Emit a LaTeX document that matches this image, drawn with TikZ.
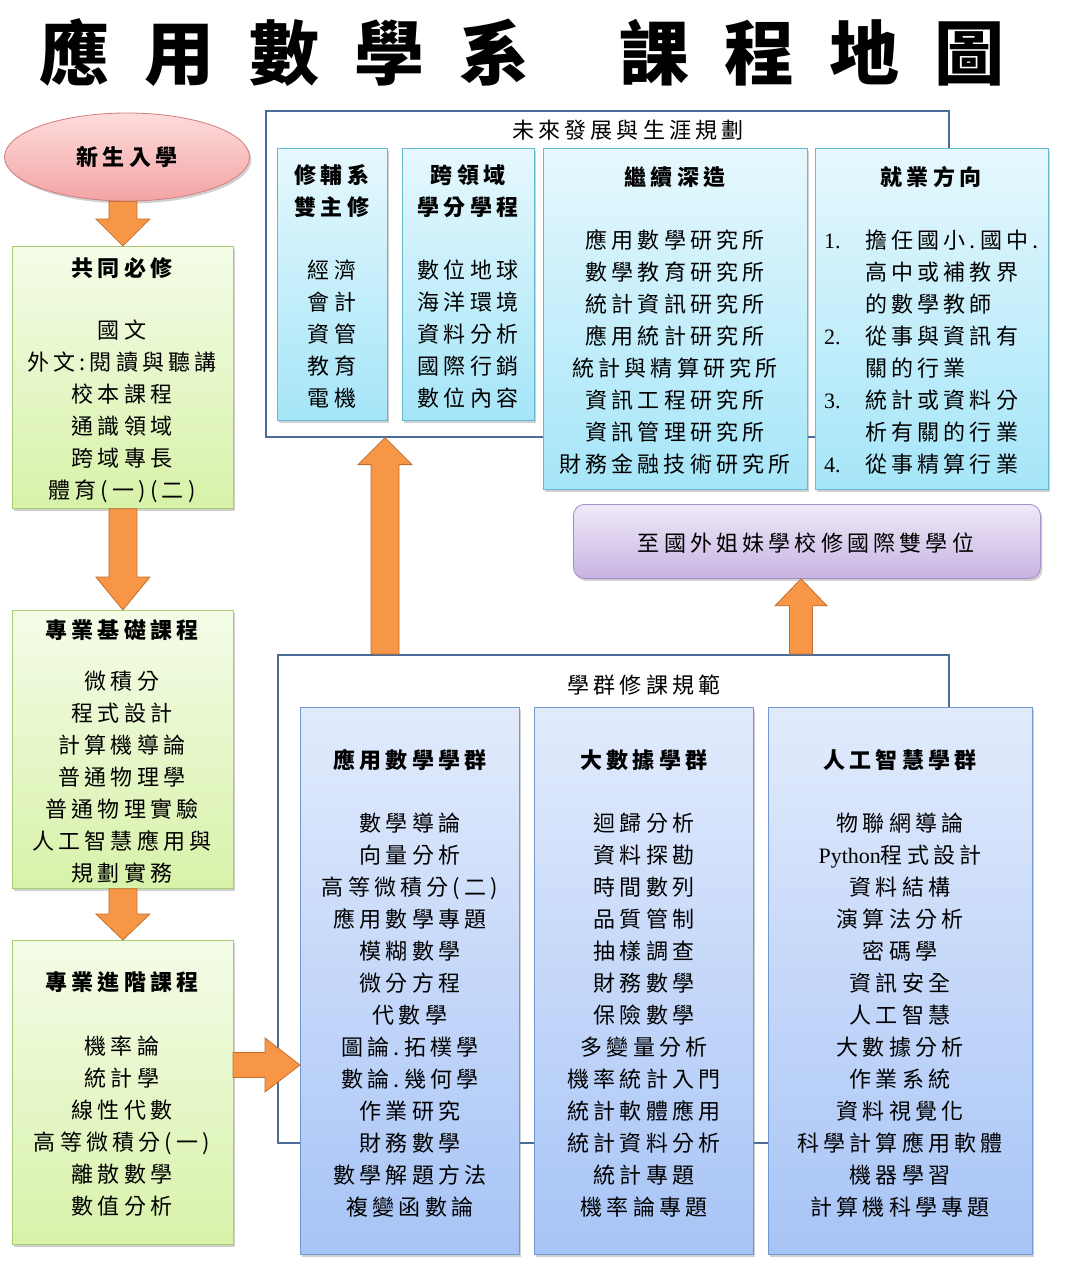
\documentclass[tikz,border=0pt]{standalone}
\usepackage{fontspec}
\setmainfont{Noto Sans CJK TC}[LetterSpace=19]
\newfontfamily\titlefont{Noto Sans CJK TC}[LetterSpace=50]
\newfontfamily\latin{Liberation Serif}
\usetikzlibrary{shapes.geometric,shadows,calc}
\definecolor{pinkT}{HTML}{FDDCDC}
\definecolor{pinkB}{HTML}{F4A3A3}
\definecolor{pinkD}{HTML}{D47B7B}
\definecolor{grnT}{HTML}{F4FCE8}
\definecolor{grnB}{HTML}{D8F2A9}
\definecolor{grnD}{HTML}{A8CC72}
\definecolor{cyT}{HTML}{E6F8FD}
\definecolor{cyB}{HTML}{A5E5F8}
\definecolor{cyD}{HTML}{62BAD3}
\definecolor{blT}{HTML}{E2EBFC}
\definecolor{blB}{HTML}{A7C4F6}
\definecolor{blD}{HTML}{6F98D2}
\definecolor{puT}{HTML}{F0EAF8}
\definecolor{puB}{HTML}{C7B3E2}
\definecolor{puD}{HTML}{A48CC6}
\definecolor{orA}{HTML}{F79646}
\definecolor{orB}{HTML}{C46F2C}
\definecolor{frameC}{HTML}{4A6C9B}
\tikzset{
  box/.style={rectangle, anchor=north west, inner sep=0pt, line width=0.8pt,
    drop shadow={shadow xshift=2pt, shadow yshift=-2.5pt, opacity=0.3, fill=black!60}},
  greenbox/.style={box, draw=grnD, top color=grnT, bottom color=grnB},
  cyanbox/.style={box, draw=cyD, top color=cyT, bottom color=cyB},
  bluebox/.style={box, draw=blD, top color=blT, bottom color=blB},
  purplebox/.style={box, draw=puD, top color=puT, bottom color=puB, rounded corners=11pt},
  outerbox/.style={rectangle, anchor=north west, draw=frameC, line width=1.6pt, fill=white, inner sep=0pt},
  txt/.style={align=center, inner sep=0pt, font=\fontsize{22}{32}\selectfont},
  head/.style={align=center, inner sep=0pt, font=\fontsize{22}{32}\selectfont\bfseries},
  blockarrow/.style={fill=orA, draw=orB, line width=0.8pt, line join=miter},
}
\newcommand\arrowdown[5]{%
  \draw[blockarrow] let \p1=(#1),\p2=(#2) in
  (\x2-#3,\y1) -- (\x2-#3,\y2+#5) -- (\x2-#4,\y2+#5) -- (\x2,\y2) -- (\x2+#4,\y2+#5) -- (\x2+#3,\y2+#5) -- (\x2+#3,\y1) -- cycle;}
\newcommand\arrowup[5]{%
  \draw[blockarrow] let \p1=(#1),\p2=(#2) in
  (\x2-#3,\y1) -- (\x2-#3,\y2-#5) -- (\x2-#4,\y2-#5) -- (\x2,\y2) -- (\x2+#4,\y2-#5) -- (\x2+#3,\y2-#5) -- (\x2+#3,\y1) -- cycle;}
\newcommand\arrowright[5]{%
  \draw[blockarrow] let \p1=(#1),\p2=(#2) in
  (\x1,\y2-#3) -- (\x2-#5,\y2-#3) -- (\x2-#5,\y2-#4) -- (\x2,\y2) -- (\x2-#5,\y2+#4) -- (\x2-#5,\y2+#3) -- (\x1,\y2+#3) -- cycle;}
\begin{document}
\begin{tikzpicture}[x=1pt,y=-1pt]
\useasboundingbox (0,0) rectangle (1072,1262);
\fill[white] (0,0) rectangle (1072,1262);

% title
\node[inner sep=0pt, font=\titlefont\fontsize{70}{70}\selectfont\bfseries] (title) at (522,53) {應用數學系\hspace{90pt}課程地圖};

% outer frames
\node[outerbox, minimum width=683pt, minimum height=326pt] (future) at (265,110) {};
\node[inner sep=0pt, font=\fontsize{22}{32}\selectfont] (futuret) at (628,130) {未來發展與生涯規劃};
\node[outerbox, minimum width=671pt, minimum height=488pt] (groups) at (277,654) {};
\node[inner sep=0pt, font=\fontsize{22}{32}\selectfont] (groupst) at (644,685) {學群修課規範};

% left column
\node[ellipse, draw=pinkD, line width=0.8pt, top color=pinkT, bottom color=pinkB,
      minimum width=245pt, minimum height=88pt, inner sep=0pt,
      drop shadow={shadow xshift=2pt, shadow yshift=-2.5pt, opacity=0.3, fill=black!60},
      font=\fontsize{22}{32}\selectfont\bfseries] (fresh) at (127,157) {新生入學};

\node[greenbox, minimum width=221pt, minimum height=262pt] (common) at (12,246) {};
\node[head] (commont) at (122,268) {共同必修};
\node[txt] (commonc) at (122,411) {國文\\外文:閱讀與聽講\\校本課程\\通識領域\\跨域專長\\體育(一)(二)};

\node[greenbox, minimum width=221pt, minimum height=278pt] (basic) at (12,610) {};
\node[head] (basict) at (122,630) {專業基礎課程};
\node[txt] (basicc) at (122,777) {微積分\\程式設計\\計算機導論\\普通物理學\\普通物理實驗\\人工智慧應用與\\規劃實務};

\node[greenbox, minimum width=221pt, minimum height=304pt] (adv) at (12,940) {};
\node[head] (advt) at (122,982) {專業進階課程};
\node[txt] (advc) at (122,1126) {機率論\\統計學\\線性代數\\高等微積分(一)\\離散數學\\數值分析};

% top inner boxes
\node[cyanbox, minimum width=110pt, minimum height=272pt] (minor) at (277,148) {};
\node[head] (minort) at (332,191) {修輔系\\雙主修};
\node[txt] (minorc) at (332,334) {經濟\\會計\\資管\\教育\\電機};

\node[cyanbox, minimum width=132pt, minimum height=272pt] (cross) at (402,148) {};
\node[head] (crosst) at (468,191) {跨領域\\學分學程};
\node[txt] (crossc) at (468,334) {數位地球\\海洋環境\\資料分析\\國際行銷\\數位內容};

\node[cyanbox, minimum width=264pt, minimum height=341pt] (grad) at (543,148) {};
\node[head] (gradt) at (675,177) {繼續深造};
\node[txt] (gradc) at (675,352) {應用數學研究所\\數學教育研究所\\統計資訊研究所\\應用統計研究所\\統計與精算研究所\\資訊工程研究所\\資訊管理研究所\\財務金融技術研究所};

\node[cyanbox, minimum width=233pt, minimum height=341pt] (job) at (815,148) {};
\node[head] (jobt) at (931,177) {就業方向};
\node[txt, align=left, anchor=west] (jobc) at (824,352) {%
\makebox[41pt][l]{\latin 1.}擔任國小.國中.\\
\hspace*{41pt}高中或補教界\\
\hspace*{41pt}的數學教師\\
\makebox[41pt][l]{\latin 2.}從事與資訊有\\
\hspace*{41pt}關的行業\\
\makebox[41pt][l]{\latin 3.}統計或資料分\\
\hspace*{41pt}析有關的行業\\
\makebox[41pt][l]{\latin 4.}從事精算行業};

% purple box
\node[purplebox, minimum width=467pt, minimum height=74pt] (intl) at (573,504) {};
\node[txt] (intlt) at (806,543) {至國外姐妹學校修國際雙學位};

% group boxes
\node[bluebox, minimum width=219pt, minimum height=547pt] (am) at (300,707) {};
\node[head] (amt) at (410,760) {應用數學學群};
\node[txt] (amc) at (410,1015) {數學導論\\向量分析\\高等微積分(二)\\應用數學專題\\模糊數學\\微分方程\\代數學\\圖論.拓樸學\\數論.幾何學\\作業研究\\財務數學\\數學解題方法\\複變函數論};

\node[bluebox, minimum width=219pt, minimum height=547pt] (bd) at (534,707) {};
\node[head] (bdt) at (644,760) {大數據學群};
\node[txt] (bdc) at (644,1015) {迴歸分析\\資料探勘\\時間數列\\品質管制\\抽樣調查\\財務數學\\保險數學\\多變量分析\\機率統計入門\\統計軟體應用\\統計資料分析\\統計專題\\機率論專題};

\node[bluebox, minimum width=264pt, minimum height=547pt] (ai) at (768,707) {};
\node[head] (ait) at (900,760) {人工智慧學群};
\node[txt] (aic) at (900,1015) {物聯網導論\\{\latin Python}程式設計\\資料結構\\演算法分析\\密碼學\\資訊安全\\人工智慧\\大數據分析\\作業系統\\資料視覺化\\科學計算應用軟體\\機器學習\\計算機科學專題};

% arrows
\arrowdown{fresh.south}{common.north}{14pt}{27pt}{27pt}
\arrowdown{common.south}{basic.north}{14pt}{27pt}{33pt}
\arrowdown{basic.south}{adv.north}{14pt}{27pt}{26pt}
\coordinate (ra) at (233,1065);
\arrowright{ra}{am.west |- ra}{12.5pt}{27pt}{35pt}
\coordinate (ua1) at (385,654);
\arrowup{ua1}{future.south -| ua1}{14pt}{27pt}{27pt}
\coordinate (ua2) at (801,654);
\arrowup{ua2}{intl.south -| ua2}{11.5pt}{26pt}{27pt}
\end{tikzpicture}
\end{document}
